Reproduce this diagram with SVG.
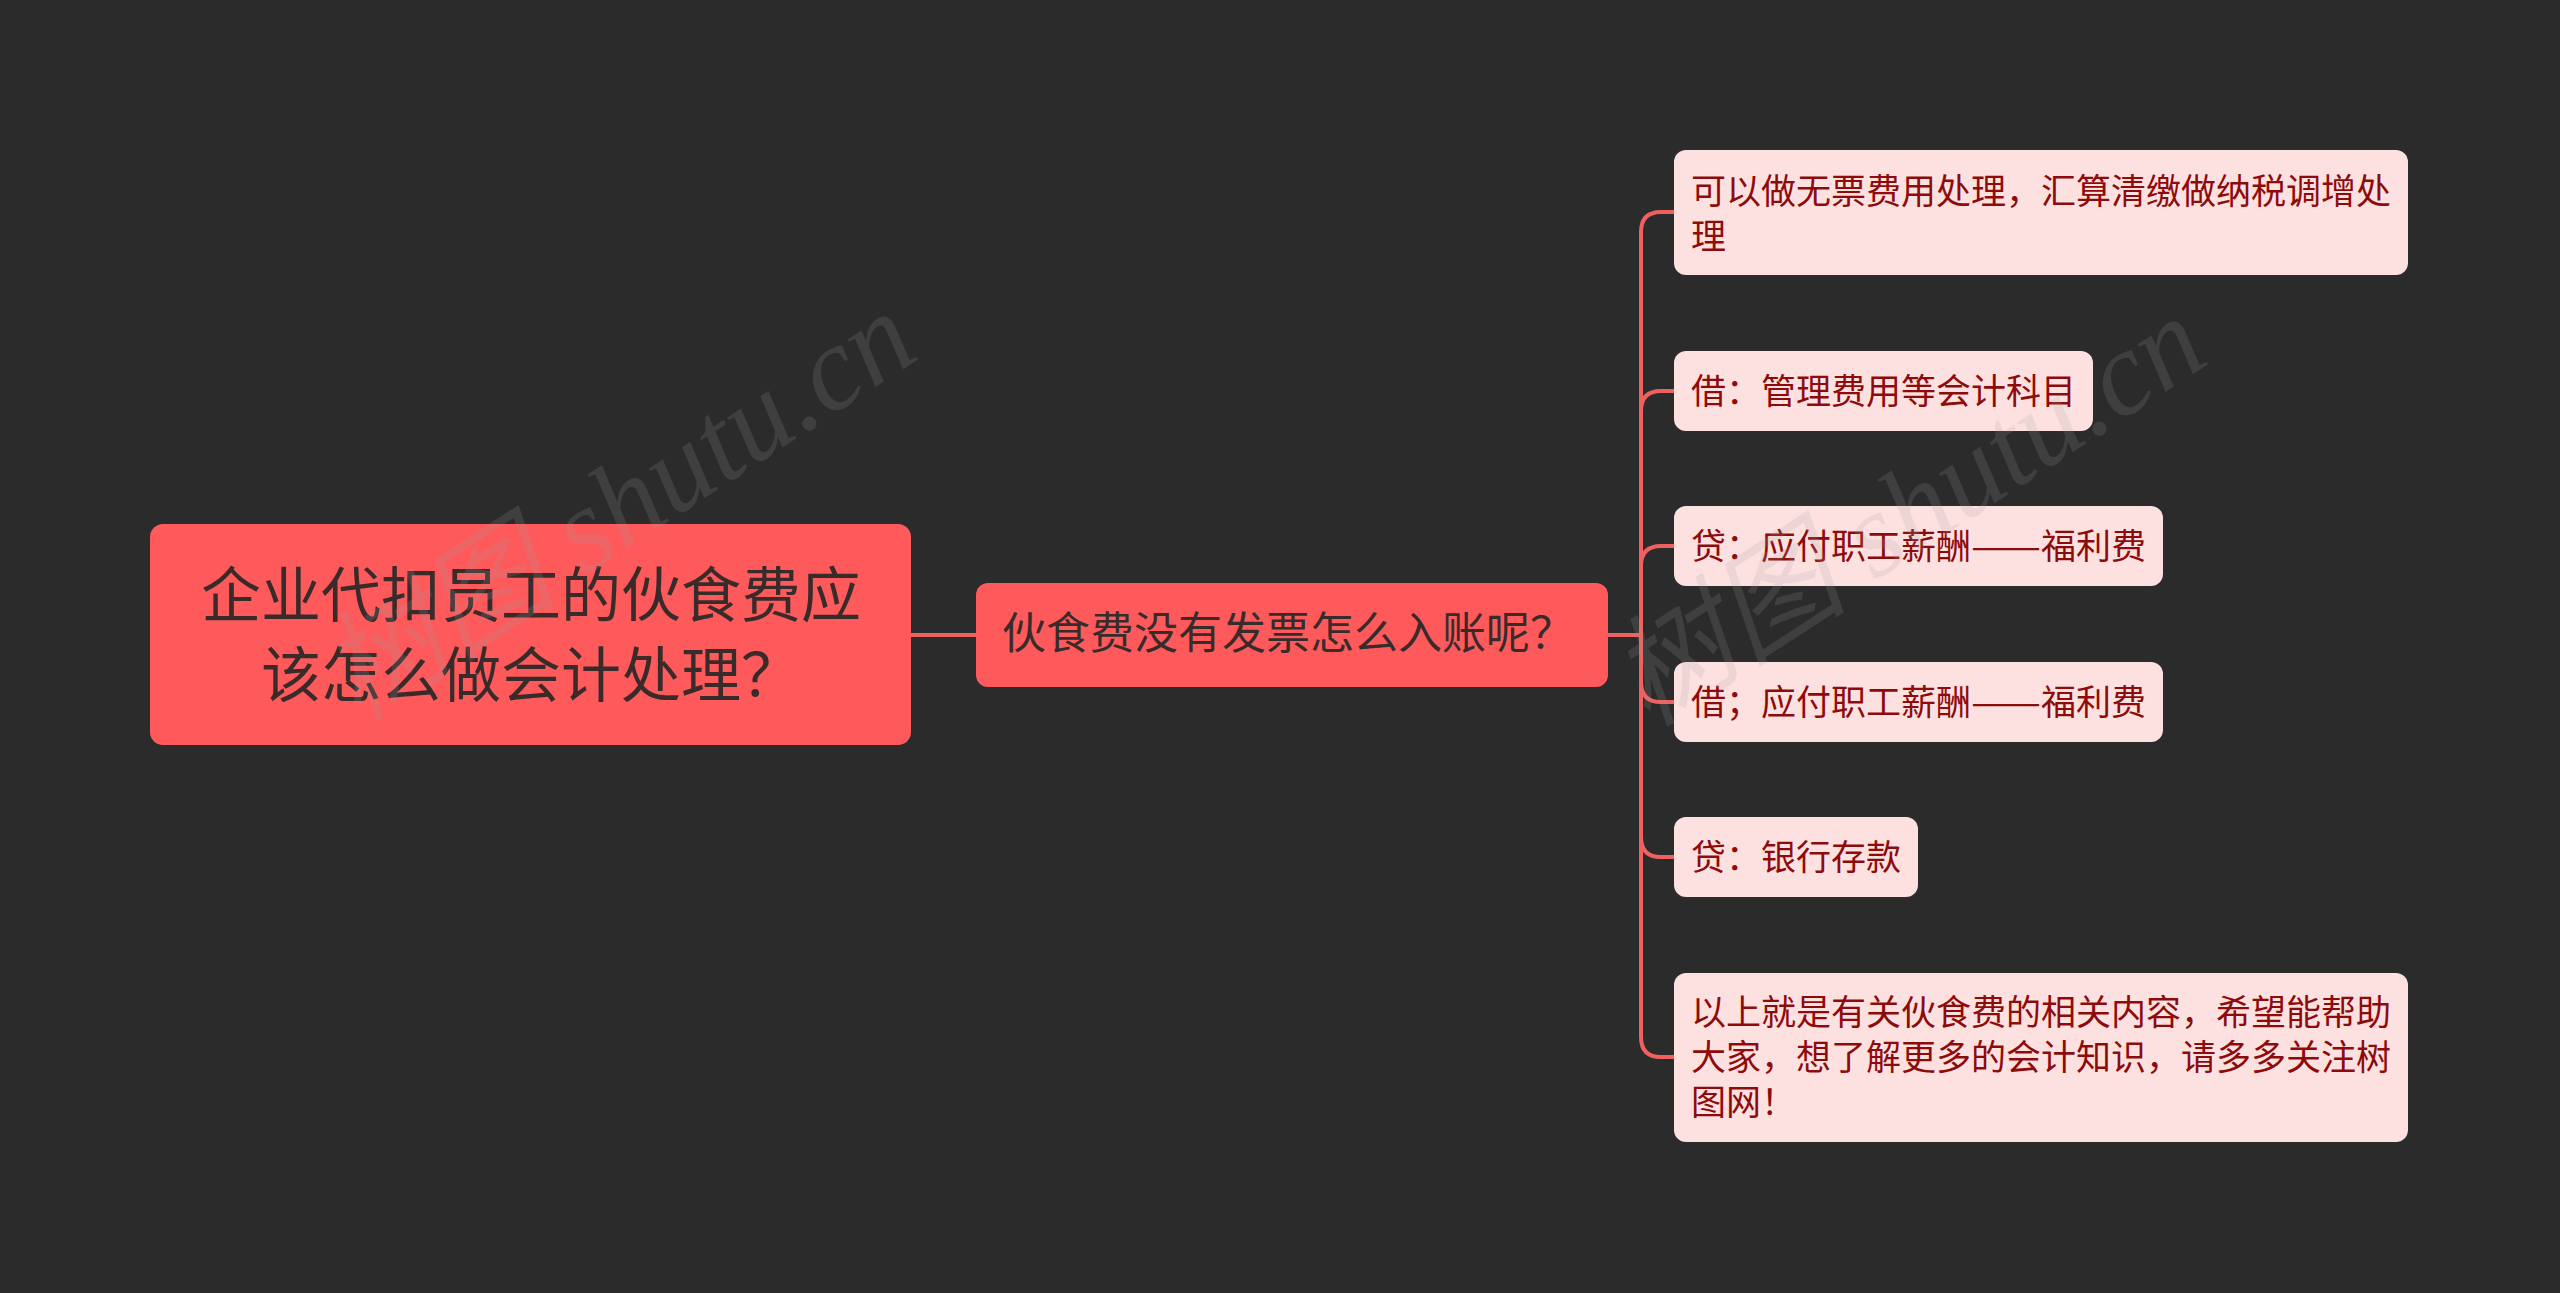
<svg xmlns="http://www.w3.org/2000/svg" width="2560" height="1293" viewBox="0 0 2560 1293">
<style>
.bg{fill:#2b2b2b}
.main{fill:#fe5a5c}
.leaf{fill:#fde1e1}
.tm{font-family:"Noto Sans CJK SC","Noto Sans",sans-serif;fill:#3a2b2b}
.tl{font-family:"Noto Sans CJK SC","Noto Sans",sans-serif;fill:#8e0b0b;font-size:35px}
.conn{fill:none;stroke:#f0605f;stroke-width:4;stroke-linejoin:round}
.wm{font-family:"Liberation Serif","Noto Sans CJK SC",serif;font-style:italic;font-size:120px;fill:#a0a0a0;opacity:0.17}
</style>
<rect class="bg" x="0" y="0" width="2560" height="1293"/>
<g id="connectors">
<path class="conn" d="M911,635 H976"/>
<path class="conn" d="M1608,635 H1641"/>
<path class="conn" d="M1641,232 V1037"/>
<path class="conn" d="M1641,232 Q1641,212 1661,212 H1674"/>
<path class="conn" d="M1641,411 Q1641,391 1661,391 H1674"/>
<path class="conn" d="M1641,566 Q1641,546 1661,546 H1674"/>
<path class="conn" d="M1641,682 Q1641,702 1661,702 H1674"/>
<path class="conn" d="M1641,837 Q1641,857 1661,857 H1674"/>
<path class="conn" d="M1641,1037 Q1641,1057 1661,1057 H1674"/>
</g>
<g id="root">
<rect class="main" x="150" y="524" width="761" height="221" rx="13"/>
<text class="tm" font-size="60" text-anchor="middle"><tspan x="531" y="617">企业代扣员工的伙食费应</tspan><tspan x="531" y="697">该怎么做会计处理？</tspan></text>
</g>
<g id="mid">
<rect class="main" x="976" y="583" width="632" height="104" rx="12"/>
<text class="tm" font-size="44" x="1002" y="649">伙食费没有发票怎么入账呢？</text>
</g>
<g id="leaf1">
<rect class="leaf" x="1674" y="150" width="734" height="125" rx="12"/>
<text class="tl"><tspan x="1691" y="204">可以做无票费用处理，汇算清缴做纳税调增处</tspan><tspan x="1691" y="249">理</tspan></text>
</g>
<g id="leaf2">
<rect class="leaf" x="1674" y="351" width="419" height="80" rx="12"/>
<text class="tl" x="1691" y="404">借：管理费用等会计科目</text>
</g>
<g id="leaf3">
<rect class="leaf" x="1674" y="506" width="489" height="80" rx="12"/>
<text class="tl" y="559"><tspan x="1691">贷：应付职工薪酬</tspan><tspan x="1971" textLength="70" lengthAdjust="spacingAndGlyphs">——</tspan><tspan x="2041">福利费</tspan></text>
</g>
<g id="leaf4">
<rect class="leaf" x="1674" y="662" width="489" height="80" rx="12"/>
<text class="tl" y="715"><tspan x="1691">借；应付职工薪酬</tspan><tspan x="1971" textLength="70" lengthAdjust="spacingAndGlyphs">——</tspan><tspan x="2041">福利费</tspan></text>
</g>
<g id="leaf5">
<rect class="leaf" x="1674" y="817" width="244" height="80" rx="12"/>
<text class="tl" x="1691" y="870">贷：银行存款</text>
</g>
<g id="leaf6">
<rect class="leaf" x="1674" y="973" width="734" height="169" rx="12"/>
<text class="tl"><tspan x="1691" y="1025">以上就是有关伙食费的相关内容，希望能帮助</tspan><tspan x="1691" y="1070">大家，想了解更多的会计知识，请多多关注树</tspan><tspan x="1691" y="1115">图网！</tspan></text>
</g>
<g id="watermark">
<text class="wm" text-anchor="middle" transform="translate(640,540) rotate(-33)">树图 shutu.cn</text>
<text class="wm" text-anchor="middle" transform="translate(1930,545) rotate(-33)">树图 shutu.cn</text>
</g>
</svg>
